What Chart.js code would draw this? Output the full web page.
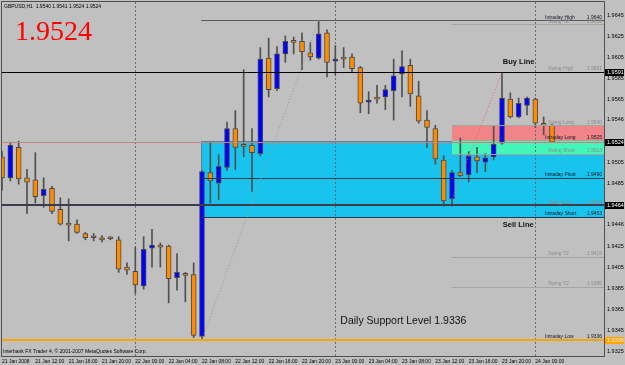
<!DOCTYPE html>
<html lang="en">
<head>
<meta charset="UTF-8">
<title>GBPUSD,H1</title>
<script src="https://cdn.jsdelivr.net/npm/chart.js"></script>
<style>
    body { margin: 0; background: #c0c0c0; }
    #chart { display: block; }
</style>
</head>
<body>
<canvas id="chart" width="625" height="365"></canvas>
<script>
    // hourly bars from 21 Jan 08:00, one slot per hour
    const timeLabels = ['21 Jan 2008', '21 Jan 12:00', '21 Jan 16:00', '21 Jan 20:00', '22 Jan 00:00', '22 Jan 04:00',
        '22 Jan 08:00', '22 Jan 12:00', '22 Jan 16:00', '22 Jan 20:00', '23 Jan 00:00', '23 Jan 04:00', '23 Jan 08:00',
        '23 Jan 12:00', '23 Jan 16:00', '23 Jan 20:00', '24 Jan 00:00'];
    const timeTicks = [0, 4, 8, 12, 16, 20, 24, 28, 32, 36, 40, 44, 48, 52, 56, 60, 64];
    const dayStarts = [16, 40, 64];
    const priceTicks = [1.9645, 1.9625, 1.9605, 1.9585, 1.9565, 1.9546, 1.9505, 1.9485, 1.9446, 1.9425, 1.9405, 1.9385, 1.9365, 1.9345, 1.9325];

    const opens = [1.9510, 1.9490, 1.9519, 1.9490, 1.9488, 1.9473, 1.9480, 1.9460, 1.9446, 1.9446, 1.9437, 1.9434, 1.9432, 1.9433,
        1.9431, 1.9405, 1.9401, 1.9387, 1.9423, 1.9425, 1.9425, 1.9395, 1.9399, 1.9398, 1.9339, 1.9495, 1.9485, 1.9500, 1.9537,
        1.9521, 1.9521, 1.9513, 1.9604, 1.9575, 1.9608, 1.9620, 1.9620, 1.9609, 1.9604, 1.9628, 1.9601, 1.9604, 1.9605, 1.9595,
        1.9562, 1.9566, 1.9567, 1.9573, 1.9589, 1.9597, 1.9568, 1.9545, 1.9537, 1.9507, 1.9470, 1.9495, 1.9493, 1.9510, 1.9505,
        1.9510, 1.9523, 1.9565, 1.9548, 1.9559, 1.9565, 1.9541, 1.9540];
    const highs = [1.9515, 1.9524, 1.9525, 1.9498, 1.9514, 1.9490, 1.9482, 1.9471, 1.9470, 1.9450, 1.9438, 1.9437, 1.9435, 1.9434,
        1.9434, 1.9409, 1.9424, 1.9434, 1.9441, 1.9428, 1.9426, 1.9418, 1.9400, 1.9409, 1.9497, 1.9524, 1.9512, 1.9543, 1.9554,
        1.9593, 1.9537, 1.9614, 1.9623, 1.9615, 1.9625, 1.9624, 1.9628, 1.9619, 1.9640, 1.9631, 1.9616, 1.9614, 1.9608, 1.9596,
        1.9572, 1.9578, 1.9578, 1.9603, 1.9611, 1.9603, 1.9582, 1.9554, 1.9540, 1.9511, 1.9497, 1.9528, 1.9515, 1.9519, 1.9513,
        1.9540, 1.9590, 1.9571, 1.9566, 1.9567, 1.9566, 1.9548, 1.9541];
    const lows = [1.9478, 1.9487, 1.9484, 1.9456, 1.9466, 1.9462, 1.9456, 1.9445, 1.9430, 1.9437, 1.9431, 1.9430, 1.9429, 1.9431,
        1.9400, 1.9398, 1.9380, 1.9384, 1.9405, 1.9405, 1.9371, 1.9383, 1.9372, 1.9338, 1.9336, 1.9466, 1.9469, 1.9497, 1.9498,
        1.9510, 1.9477, 1.9511, 1.9567, 1.9573, 1.9600, 1.9608, 1.9593, 1.9602, 1.9603, 1.9586, 1.9588, 1.9595, 1.9591, 1.9552,
        1.9551, 1.9561, 1.9555, 1.9545, 1.9567, 1.9558, 1.9542, 1.9519, 1.9503, 1.9463, 1.9463, 1.9491, 1.9486, 1.9495, 1.9496,
        1.9507, 1.9522, 1.9547, 1.9547, 1.9550, 1.9538, 1.9531, 1.9524];
    const closes = [1.9490, 1.9521, 1.9489, 1.9486, 1.9472, 1.9479, 1.9458, 1.9446, 1.9445, 1.9438, 1.9433, 1.9433, 1.9431, 1.9432,
        1.9403, 1.9402, 1.9388, 1.9422, 1.9426, 1.9424, 1.9394, 1.9400, 1.9397, 1.9340, 1.9496, 1.9487, 1.9501, 1.9537, 1.9519,
        1.9520, 1.9514, 1.9603, 1.9574, 1.9608, 1.9620, 1.9619, 1.9610, 1.9605, 1.9627, 1.9600, 1.9603, 1.9603, 1.9594, 1.9561,
        1.9564, 1.9565, 1.9574, 1.9587, 1.9596, 1.9570, 1.9544, 1.9538, 1.9508, 1.9468, 1.9495, 1.9492, 1.9511, 1.9506, 1.9509,
        1.9522, 1.9566, 1.9548, 1.9561, 1.9566, 1.9542, 1.9540, 1.9524];

    const levelNames = ['Intraday High', 'Swing T2', 'Swing High', 'Swing Long', 'Intraday Long', 'Swing Short',
        'Intraday Pivot', 'Swing Low', 'Intraday Short', 'Swing T2', 'Swing T2', 'Intraday Low'];
    const levelValues = [1.9640, 1.9636, 1.9591, 1.9540, 1.9525, 1.9513, 1.9490, 1.9464, 1.9453, 1.9415, 1.9386, 1.9336];

    const buyLine = 1.9591, bidPrice = 1.9524, sellLine = 1.9464, supportLevel = 1.9336;
    const intradayStart = 23.9, swingStart = 54;
    const trendUp = [[24, 1.9336], [38, 1.9640]];
    const trendRecent = [[54, 1.9470], [60, 1.9590]];

    const lvl = name => levelValues[levelNames.indexOf(name)];
    const small = '5px "Liberation Sans"';

    const mtPlugin = {
        id: 'mt4',
        beforeDraw(chart) {
            const {ctx, chartArea: a, scales: {x, y}} = chart;
            ctx.save();
            ctx.fillStyle = '#c0c0c0';
            ctx.fillRect(0, 0, chart.width, chart.height);
            const zone = (from, v1, v2, fill, stroke) => {
                const x0 = Math.round(x.getPixelForValue(from));
                const y1 = Math.round(y.getPixelForValue(v1)), y2 = Math.round(y.getPixelForValue(v2));
                ctx.fillStyle = fill;
                ctx.fillRect(x0, y1, a.right - x0, y2 - y1);
                if (stroke) {
                    ctx.strokeStyle = stroke;
                    ctx.lineWidth = 1;
                    ctx.strokeRect(x0 + 0.5, y1 + 0.5, a.right - x0, y2 - y1);
                }
            };
            zone(intradayStart, lvl('Intraday Long'), lvl('Intraday Short'), '#18c4ee', '#5f7f95');
            zone(swingStart, lvl('Swing Long'), lvl('Intraday Long'), '#f08486');
            zone(swingStart, lvl('Intraday Long'), lvl('Swing Short'), '#42f5b8');
            ctx.restore();
        },
        afterDatasetsDraw(chart) {
            const {ctx, chartArea: a, scales: {x, y}} = chart;
            ctx.save();
            ctx.beginPath();
            ctx.rect(a.left, a.top, a.width, a.height);
            ctx.clip();
            const hline = (v, from, color, w) => {
                const py = Math.round(y.getPixelForValue(v)) + (w % 2 ? 0.5 : 0);
                ctx.strokeStyle = color;
                ctx.lineWidth = w;
                ctx.beginPath();
                ctx.moveTo(from, py);
                ctx.lineTo(a.right, py);
                ctx.stroke();
            };
            levelNames.forEach((n, i) => {
                const intraday = n.startsWith('Intraday');
                const from = x.getPixelForValue(intraday ? intradayStart : swingStart);
                let color = intraday ? '#25384e' : '#a4a4a4';
                if (n === 'Intraday High') color = '#5a5a5a';
                if (n !== 'Intraday Long') hline(levelValues[i], from, color, 1);
            });
            hline(buyLine, a.left, '#000000', 1);
            hline(bidPrice, a.left, '#c48484', 1);
            hline(sellLine, a.left, '#3b3d4a', 2);
            hline(supportLevel, a.left, '#ffa500', 2);

            const trend = (pts, color) => {
                ctx.strokeStyle = color;
                ctx.lineWidth = 1;
                ctx.setLineDash([1, 2]);
                ctx.beginPath();
                ctx.moveTo(x.getPixelForValue(pts[0][0]), y.getPixelForValue(pts[0][1]));
                ctx.lineTo(x.getPixelForValue(pts[1][0]), y.getPixelForValue(pts[1][1]));
                ctx.stroke();
                ctx.setLineDash([]);
            };
            trend(trendUp, '#9a9a9a');
            trend(trendRecent, '#ff5a5a');

            ctx.font = small;
            ctx.textBaseline = 'middle';
            levelNames.forEach((n, i) => {
                const intraday = n.startsWith('Intraday');
                const py = y.getPixelForValue(levelValues[i]) - 3;
                ctx.fillStyle = intraday ? '#101828' : '#8c8c8c';
                ctx.textAlign = 'left';
                ctx.fillText(n, a.right - (intraday ? 59 : 56), py);
                ctx.textAlign = 'right';
                ctx.fillText(levelValues[i].toFixed(4), a.right - 2, py);
            });
            ctx.restore();
        },
        afterDraw(chart) {
            const {ctx, chartArea: a, scales: {x, y}} = chart;
            ctx.save();
            ctx.strokeStyle = '#505050';
            ctx.lineWidth = 1;
            ctx.strokeRect(a.left - 0.5, a.top - 0.5, a.width + 1, a.height + 1);

            const marker = (v, bg, fg) => {
                const py = Math.round(y.getPixelForValue(v));
                ctx.fillStyle = bg;
                ctx.fillRect(a.right + 1, py - 3, 19, 7);
                ctx.fillStyle = fg;
                ctx.font = '5.5px "Liberation Sans"';
                ctx.textAlign = 'left';
                ctx.textBaseline = 'middle';
                ctx.fillText(v.toFixed(4), a.right + 3, py + 0.5);
            };
            marker(buyLine, '#000000', '#ffffff');
            marker(bidPrice, '#000000', '#ffffff');
            marker(sellLine, '#000000', '#ffffff');
            marker(supportLevel, '#ffa500', '#fff4dc');

            ctx.textAlign = 'left';
            ctx.textBaseline = 'alphabetic';
            ctx.fillStyle = '#000000';
            ctx.font = small;
            ctx.fillText('GBPUSD,H1  1.9540 1.9541 1.9524 1.9524', a.left + 2, a.top + 6);
            ctx.fillText('Interbank FX Trader 4, \u00a9 2001-2007 MetaQuotes Software Corp.', a.left + 1, a.bottom - 3);

            ctx.fillStyle = '#ff0000';
            ctx.font = '28px "Liberation Serif"';
            ctx.fillText(bidPrice.toFixed(4), 15, 40);

            ctx.fillStyle = '#111111';
            ctx.font = 'bold 7.5px "Liberation Sans"';
            ctx.textBaseline = 'middle';
            ctx.fillText('Buy Line', x.getPixelForValue(60.1), y.getPixelForValue(buyLine) - 10);
            ctx.fillText('Sell Line', x.getPixelForValue(60.1), y.getPixelForValue(lvl('Intraday Short')) + 8);
            ctx.font = '10.5px "Liberation Sans"';
            ctx.fillText('Daily Support Level ' + supportLevel.toFixed(4), x.getPixelForValue(40.6), y.getPixelForValue(supportLevel) - 19);
            ctx.restore();
        }
    };

    const bodies = opens.map((o, i) => ({x: i, y: [o, closes[i]]}));
    const wicks = highs.map((h, i) => ({x: i, y: [lows[i], h]}));
    const bodyColors = opens.map((o, i) => closes[i] > o ? '#0000ff' : '#ff8c00');

    new Chart(document.getElementById('chart'), {
        type: 'bar',
        data: {
            datasets: [
                { data: bodies, backgroundColor: bodyColors, borderColor: '#4a4a4a', borderWidth: 1,
                  borderSkipped: false, barThickness: 5, minBarLength: 2, grouped: false, order: 0 },
                { data: wicks, backgroundColor: '#505050', barThickness: 1, grouped: false, order: 1 }
            ]
        },
        options: {
            responsive: false,
            animation: false,
            devicePixelRatio: 1,
            layout: { padding: { left: 2, top: 2, right: 0, bottom: 0 } },
            plugins: { legend: { display: false }, tooltip: { enabled: false } },
            scales: {
                x: {
                    type: 'linear', min: 0, max: 72.24, offset: false,
                    afterBuildTicks: s => { s.ticks = timeTicks.map(v => ({ value: v })); },
                    afterFit: s => { s.height = 9; s.paddingLeft = 0; s.paddingRight = 0; },
                    ticks: { autoSkip: false, maxRotation: 0, align: 'start', padding: 3, color: '#000',
                             font: { size: 5, family: 'Liberation Sans' }, callback: (v, i) => timeLabels[i] },
                    grid: { offset: false, color: c => c.tick && dayStarts.includes(c.tick.value) ? '#6a6a6a' : 'rgba(0,0,0,0)',
                            drawTicks: false, lineWidth: 1 },
                    border: { display: false, dash: [2, 2] }
                },
                y: {
                    position: 'right', min: 1.93204, max: 1.96574,
                    afterBuildTicks: s => { s.ticks = priceTicks.map(v => ({ value: v })); },
                    afterFit: s => { s.width = 21; s.paddingTop = 0; s.paddingBottom = 0; },
                    ticks: { padding: 3, color: '#000', font: { size: 5.5, family: 'Liberation Sans' },
                             callback: v => v.toFixed(4) },
                    grid: { display: false, drawTicks: false },
                    border: { display: false }
                }
            }
        },
        plugins: [mtPlugin]
    });
</script>
</body>
</html>
